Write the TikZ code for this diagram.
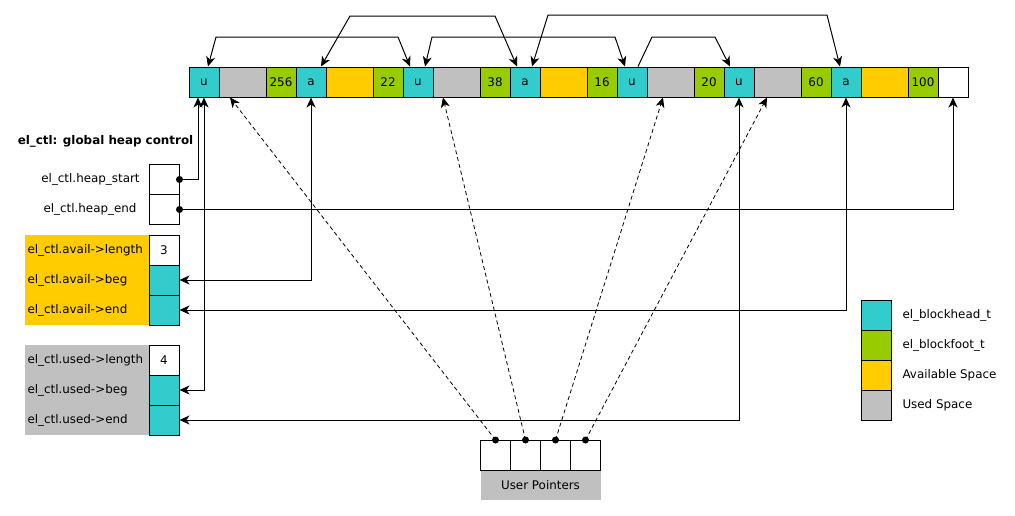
\documentclass[tikz,border=0pt]{standalone}
\usepackage{fontspec}
\setmainfont{DejaVu Sans}
\usetikzlibrary{arrows.meta}
\definecolor{headc}{HTML}{33CCCC}
\definecolor{footc}{HTML}{99CC00}
\definecolor{availc}{HTML}{FFCC00}
\definecolor{usedc}{HTML}{C0C0C0}
\begin{document}
\begin{tikzpicture}[x=1pt,y=-1pt, font=\fontsize{11.9}{14}\selectfont, line width=1pt,
  cell/.style={draw, minimum height=30pt, inner sep=0pt, anchor=center},
  headcell/.style={cell, fill=headc, minimum width=30pt},
  footcell/.style={cell, fill=footc, minimum width=30pt},
  availcell/.style={cell, fill=availc, minimum width=47pt},
  usedcell/.style={cell, fill=usedc, minimum width=47pt},
  whitecell/.style={cell, fill=white, minimum width=30pt},
  lbl/.style={inner sep=0pt},
  link/.style={-{Stealth[length=10pt,width=9pt,inset=3pt]}},
  dlink/.style={{Stealth[length=10pt,width=9pt,inset=3pt]}-{Stealth[length=10pt,width=9pt,inset=3pt]}},
  ptr/.style={link, dash pattern=on 4pt off 3pt, line width=0.8pt},
  dotmark/.style={circle, fill=black, draw=none, inner sep=0pt, minimum size=7pt}]
\useasboundingbox (0,0) rectangle (1015,515);

% heap row
\node[headcell]  (u1) at (204,82) {u};
\node[usedcell]  (g1) at (242.5,82) {};
\node[footcell]  (f1) at (281,82) {256};
\node[headcell]  (a1) at (311,82) {a};
\node[availcell] (y1) at (349.5,82) {};
\node[footcell]  (f2) at (388,82) {22};
\node[headcell]  (u2) at (418,82) {u};
\node[usedcell]  (g2) at (456.5,82) {};
\node[footcell]  (f3) at (495,82) {38};
\node[headcell]  (a2) at (525,82) {a};
\node[availcell] (y2) at (563.5,82) {};
\node[footcell]  (f4) at (602,82) {16};
\node[headcell]  (u3) at (632,82) {u};
\node[usedcell]  (g3) at (670.5,82) {};
\node[footcell]  (f5) at (709,82) {20};
\node[headcell]  (u4) at (739,82) {u};
\node[usedcell]  (g4) at (777.5,82) {};
\node[footcell]  (f6) at (816,82) {60};
\node[headcell]  (a3) at (846,82) {a};
\node[availcell] (y3) at (884.5,82) {};
\node[footcell]  (f7) at (923,82) {100};
\node[whitecell] (wend) at (953,82) {};

% title
\node[lbl, font=\fontsize{11.9}{14}\selectfont\bfseries] (title) at (105.5,141) {el\_ctl: global heap control};

% heap start / end
\node[whitecell] (hs) at (164,179.5) {};
\node[whitecell] (he) at (164,209.5) {};
\node[lbl] (hslbl) at (90.5,179) {el\_ctl.heap\_start};
\node[lbl] (helbl) at (90,209) {el\_ctl.heap\_end};

% avail list
\node[fill=availc, minimum width=124pt, minimum height=90pt, inner sep=0pt] (availbg) at (87,280) {};
\node[whitecell] (alen) at (164,250) {3};
\node[headcell]  (abeg) at (164,280) {};
\node[headcell]  (aend) at (164,310) {};
\node[lbl, anchor=west] (allbl) at (27,250) {el\_ctl.avail->length};
\node[lbl, anchor=west] (ablbl) at (27,280) {el\_ctl.avail->beg};
\node[lbl, anchor=west] (aelbl) at (27,310) {el\_ctl.avail->end};

% used list
\node[fill=usedc, minimum width=124pt, minimum height=90pt, inner sep=0pt] (usedbg) at (87,390) {};
\node[whitecell] (ulen) at (164,360) {4};
\node[headcell]  (ubeg) at (164,390) {};
\node[headcell]  (uend) at (164,420) {};
\node[lbl, anchor=west] (ullbl) at (27,360) {el\_ctl.used->length};
\node[lbl, anchor=west] (ublbl) at (27,390) {el\_ctl.used->beg};
\node[lbl, anchor=west] (uelbl) at (27,420) {el\_ctl.used->end};

% legend
\node[headcell] (lg1) at (876.5,315) {};
\node[footcell] (lg2) at (876.5,345) {};
\node[cell, fill=availc, minimum width=30pt] (lg3) at (876.5,375) {};
\node[cell, fill=usedc, minimum width=30pt] (lg4) at (876.5,405) {};
\node[lbl, anchor=west] (lt1) at (902,315) {el\_blockhead\_t};
\node[lbl, anchor=west] (lt2) at (902,345) {el\_blockfoot\_t};
\node[lbl, anchor=west] (lt3) at (902,375) {Available Space};
\node[lbl, anchor=west] (lt4) at (902,405) {Used Space};

% user pointers
\node[whitecell] (p1) at (495.5,455.5) {};
\node[whitecell] (p2) at (525.5,455.5) {};
\node[whitecell] (p3) at (555.5,455.5) {};
\node[whitecell] (p4) at (585.5,455.5) {};
\node[fill=usedc, minimum width=120pt, minimum height=29pt, inner sep=0pt] (uplbl) at (540.5,485.5) {User Pointers};

% top links
\draw[dlink] ([xshift=4pt]u1.north) -- (216,37) -- (398,37) -- ([xshift=-8pt]u2.north);
\draw[dlink] ([xshift=7pt]u2.north) -- (432,37) -- (615,37) -- ([xshift=-7pt]u3.north);
\draw[link]  ([xshift=6pt]u3.north) -- (652,37) -- (715,37) -- ([xshift=-9pt]u4.north);
\draw[dlink] ([xshift=10pt]a1.north) -- (350,16) -- (495,16) -- ([xshift=-8pt]a2.north);
\draw[dlink] ([xshift=7pt]a2.north) -- (548,15) -- (827,15) -- ([xshift=-6pt]a3.north);

% control links
\draw[link]  (hs.east) -| ([xshift=-6pt]u1.south);
\draw[link]  (he.east) -| (wend.south);
\draw[dlink] (abeg.east) -| (a1.south);
\draw[dlink] (aend.east) -| (a3.south);
\draw[dlink] (ubeg.east) -| (u1.south);
\draw[dlink] (uend.east) -| (u4.south);

% user pointer links
\draw[ptr] (p1.north) -- ([xshift=-12.5pt]g1.south);
\draw[ptr] (p2.north) -- ([xshift=-13.5pt]g2.south);
\draw[ptr] (p3.north) -- ([xshift=-7.5pt]g3.south);
\draw[ptr] (p4.north) -- ([xshift=-10.5pt]g4.south);

% dots
\node[dotmark] (dhs) at (hs.east) {};
\node[dotmark] (dhe) at (he.east) {};
\node[dotmark] (dp1) at (p1.north) {};
\node[dotmark] (dp2) at (p2.north) {};
\node[dotmark] (dp3) at (p3.north) {};
\node[dotmark] (dp4) at (p4.north) {};
\end{tikzpicture}
\end{document}
